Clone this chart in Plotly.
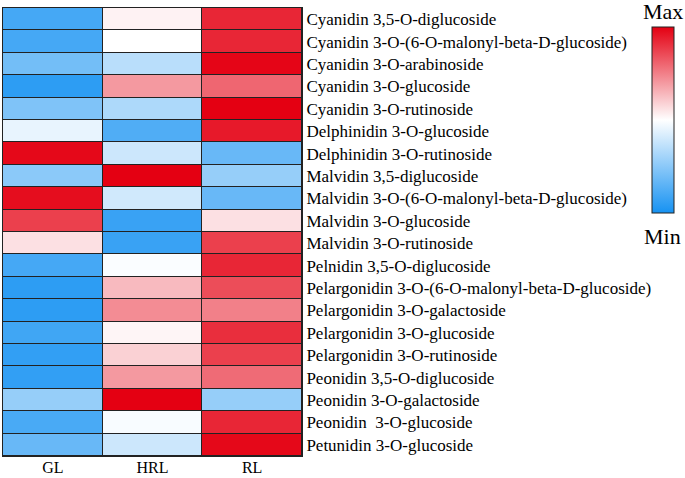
import plotly.graph_objects as go

samples = ["GL", "HRL", "RL"]
compounds = [
    "Cyanidin 3,5-O-diglucoside",
    "Cyanidin 3-O-(6-O-malonyl-beta-D-glucoside)",
    "Cyanidin 3-O-arabinoside",
    "Cyanidin 3-O-glucoside",
    "Cyanidin 3-O-rutinoside",
    "Delphinidin 3-O-glucoside",
    "Delphinidin 3-O-rutinoside",
    "Malvidin 3,5-diglucoside",
    "Malvidin 3-O-(6-O-malonyl-beta-D-glucoside)",
    "Malvidin 3-O-glucoside",
    "Malvidin 3-O-rutinoside",
    "Pelnidin 3,5-O-diglucoside",
    "Pelargonidin 3-O-(6-O-malonyl-beta-D-glucoside)",
    "Pelargonidin 3-O-galactoside",
    "Pelargonidin 3-O-glucoside",
    "Pelargonidin 3-O-rutinoside",
    "Peonidin 3,5-O-diglucoside",
    "Peonidin 3-O-galactoside",
    "Peonidin  3-O-glucoside",
    "Petunidin 3-O-glucoside",
]
gl = [-0.8, -0.8, -0.6, -0.9, -0.55, -0.1, 0.97, -0.5, 0.95, 0.75,
      0.12, -0.8, -0.9, -0.9, -0.82, -0.88, -0.88, -0.45, -0.78, -0.65]
hrl = [0.05, 0.0, -0.3, 0.4, -0.35, -0.75, -0.22, 1.0, -0.2, -0.85,
       -0.85, -0.02, 0.27, 0.45, 0.04, 0.18, 0.4, 1.0, -0.03, -0.22]
rl = [0.85, 0.85, 0.98, 0.6, 1.0, 0.9, -0.65, -0.45, -0.65, 0.12,
      0.75, 0.85, 0.7, 0.5, 0.82, 0.75, 0.58, -0.45, 0.85, 0.97]

z = [[a, b, c] for a, b, c in zip(gl, hrl, rl)]

font_family = "Liberation Serif"

fig = go.Figure(go.Heatmap(
    z=z, x=samples, y=compounds,
    zmin=-1, zmax=1,
    colorscale=[[0, "rgb(22,146,242)"], [0.5, "rgb(255,255,255)"], [1, "rgb(228,0,18)"]],
    xgap=1, ygap=1,
    colorbar=dict(
        x=2.17, xanchor="left", xref="paper",
        y=0.75, yanchor="middle",
        len=186, lenmode="pixels",
        thickness=22, thicknessmode="pixels",
        outlinewidth=1, outlinecolor="#222",
        showticklabels=False, ticks="",
        xpad=0, ypad=0,
    ),
    hoverinfo="skip",
))

fig.update_layout(
    width=685, height=478,
    margin=dict(l=3, r=383, t=8, b=22, autoexpand=False),
    paper_bgcolor="white",
    plot_bgcolor="#222222",
    font=dict(family=font_family, size=17, color="black"),
    xaxis=dict(side="bottom", showgrid=False, zeroline=False, ticks="",
               showline=True, mirror=True, linecolor="#222", linewidth=1,
               automargin=False, tickfont=dict(size=16), ticklabelstandoff=-3),
    yaxis=dict(side="right", autorange="reversed", showgrid=False, zeroline=False,
               ticks="", showline=True, mirror=True, linecolor="#222", linewidth=1,
               automargin=False, tickfont=dict(size=17)),
    annotations=[
        dict(text="Max", x=2.207, y=0.993, xref="paper", yref="paper",
             xanchor="center", yanchor="middle",
             showarrow=False, font=dict(size=22, family=font_family)),
        dict(text="Min", x=2.207, y=0.491, xref="paper", yref="paper",
             xanchor="center", yanchor="middle",
             showarrow=False, font=dict(size=22, family=font_family)),
    ],
)

fig.write_html("out.html", config={"displayModeBar": False},
               post_script="document.body.style.margin='0';")
